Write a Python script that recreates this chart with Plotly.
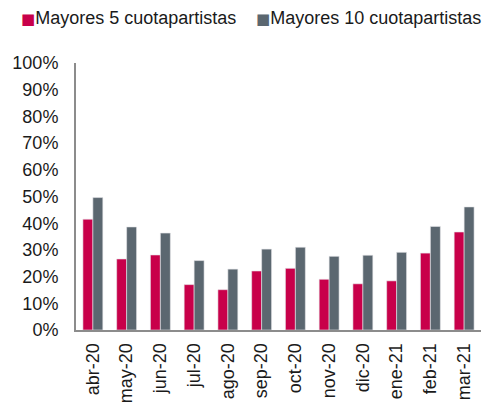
import plotly.graph_objects as go

# Data
meses = ['abr-20', 'may-20', 'jun-20', 'jul-20', 'ago-20', 'sep-20',
         'oct-20', 'nov-20', 'dic-20', 'ene-21', 'feb-21', 'mar-21']
mayores_5 = [41.5, 26.6, 28.1, 17.0, 15.1, 22.1, 23.1, 19.0, 17.3, 18.4, 28.8, 36.7]
mayores_10 = [49.6, 38.6, 36.3, 26.0, 22.8, 30.3, 31.0, 27.6, 28.0, 29.1, 38.8, 46.1]
series = [('Mayores 5 cuotapartistas', mayores_5, '#C8004A'),
          ('Mayores 10 cuotapartistas', mayores_10, '#5B6770')]

fig = go.Figure()
for name, vals, col in series:
    fig.add_trace(go.Bar(x=meses, y=vals, name=name,
                         marker=dict(color=col, line=dict(color='#E6E6EA', width=0.6))))

# legend drawn as text: coloured square + name, like the original
legend_x = [-0.14, 0.44]
for (name, vals, col), lx in zip(series, legend_x):
    fig.add_annotation(xref='paper', yref='paper', x=lx, y=1.17,
                       xanchor='left', yanchor='middle', showarrow=False,
                       text=(f'<span style="color:{col};font-size:15px;'
                             f'font-family:DejaVu Sans">■</span>{name}'),
                       font=dict(size=18))

fig.update_layout(
    width=496, height=402,
    margin=dict(l=76, r=15, t=63, b=72),
    plot_bgcolor='white', paper_bgcolor='white',
    font=dict(family='Liberation Sans, Arial, sans-serif', size=18, color='#1a1a1a'),
    barmode='group', bargap=0.41, bargroupgap=0,
    showlegend=False,
)
fig.update_yaxes(range=[0, 100], ticksuffix='%', dtick=10, showgrid=False,
                 showline=True, linecolor='#8C8C8C', linewidth=2,
                 ticklabelstandoff=12, zeroline=False, automargin=False)
fig.update_xaxes(showline=True, linecolor='#8C8C8C', linewidth=2,
                 tickangle=-90, ticklabelstandoff=4, automargin=False)

# page body has a default 8px margin; drop it so the figure sits at 0,0
fig.write_html("out.html", config={'displayModeBar': False},
               post_script="document.body.style.margin='0';")
